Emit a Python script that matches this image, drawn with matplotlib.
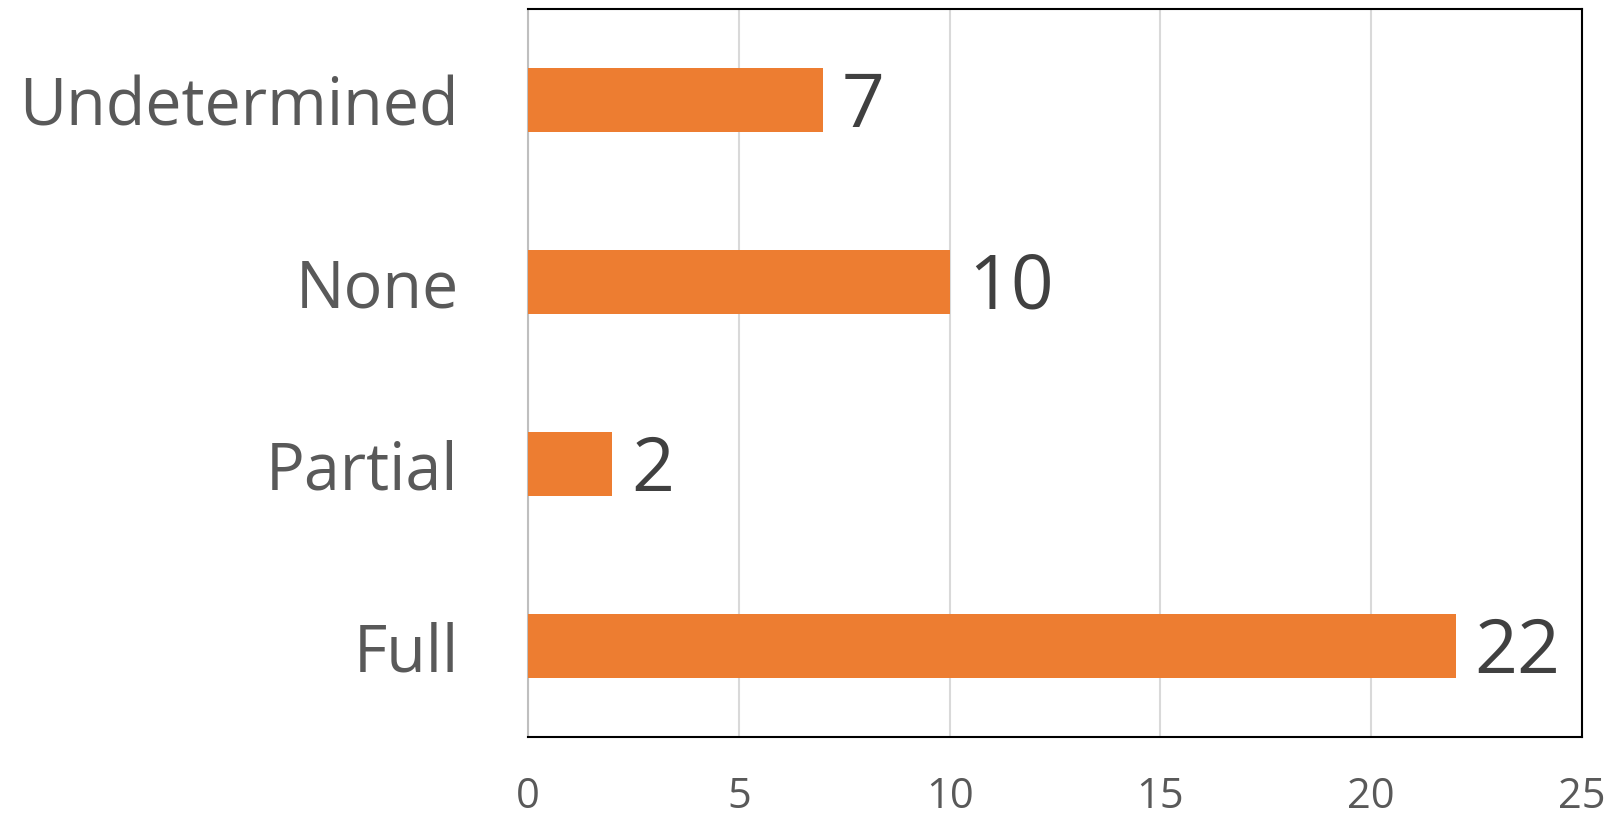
import matplotlib
matplotlib.use("Agg")
import matplotlib.pyplot as plt

categories = ["Full", "Partial", "None", "Undetermined"]
values = [22, 2, 10, 7]
xticks = [0, 5, 10, 15, 20, 25]

plt.rcParams['font.family'] = ['Open Sans', 'DejaVu Sans']

fig = plt.figure(figsize=(16.12, 8.18), dpi=100)
ax = fig.add_axes([528/1612, 1 - 737/818, (1582-528)/1612, (737-9)/818])

ypos = list(range(len(categories)))
ax.barh(ypos, values, height=0.35, color="#ED7D31", zorder=3)
for y, v in zip(ypos, values):
    ax.text(v + 0.45, y - 0.04, str(v), va="center", ha="left", fontsize=54, color="#404040")

ax.set_xlim(0, 25)
ax.set_ylim(-0.5, 3.5)
ax.set_xticks(xticks)
ax.set_xticklabels([str(t) for t in xticks])
ax.set_yticks(ypos)
ax.set_yticklabels(categories)
ax.tick_params(axis="x", length=0, pad=28, labelsize=30, labelcolor="#595959")
ax.tick_params(axis="y", length=0, pad=50, labelsize=46.5, labelcolor="#595959")
for lbl in ax.get_yticklabels():
    lbl.set_y(lbl.get_position()[1])
ax.grid(axis="x", color="#D9D9D9", linewidth=1.5, zorder=0)
for s in ["top", "right", "bottom"]:
    ax.spines[s].set_color("black")
    ax.spines[s].set_linewidth(1.5)
ax.spines["left"].set_color("#BFBFBF")
ax.spines["left"].set_linewidth(1.5)

fig.savefig("out.png", dpi=100)
